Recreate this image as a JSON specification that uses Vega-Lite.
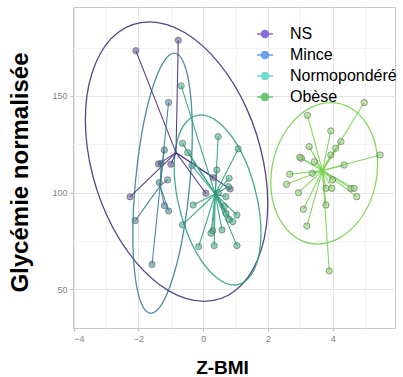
{
  "$schema": "https://vega.github.io/schema/vega-lite/v6.json",
  "width": 322,
  "height": 321,
  "autosize": {"type": "none"},
  "padding": {"left": 73, "top": 7, "right": 8, "bottom": 49},
  "background": "white",
  "config": {
    "view": {"stroke": "#c8c8c8", "strokeWidth": 1},
    "axis": {
      "domain": false,
      "labelFont": "Liberation Sans",
      "labelFontSize": 9,
      "labelColor": "#7f7f7f",
      "tickColor": "#b5b5b5",
      "tickSize": 3,
      "titleFont": "Liberation Sans",
      "titleFontWeight": "bold",
      "titleColor": "#000000"
    }
  },
  "datasets": {
    "pts": [
      {"g": "NS", "x": -2.08, "y": 173.4, "cx": -0.84, "cy": 120.7},
      {"g": "NS", "x": -0.77, "y": 178.8, "cx": -0.84, "cy": 120.7},
      {"g": "NS", "x": -2.26, "y": 97.8, "cx": -0.84, "cy": 120.7},
      {"g": "NS", "x": -1.38, "y": 114.8, "cx": -0.84, "cy": 120.7},
      {"g": "NS", "x": -1.0, "y": 114.7, "cx": -0.84, "cy": 120.7},
      {"g": "NS", "x": 0.08, "y": 99.7, "cx": -0.84, "cy": 120.7},
      {"g": "NS", "x": 0.32, "y": 107.8, "cx": -0.84, "cy": 120.7},
      {"g": "NS", "x": 0.83, "y": 101.9, "cx": -0.84, "cy": 120.7},
      {"g": "Mince", "x": -1.07, "y": 146.6, "cx": -1.33, "cy": 103.5},
      {"g": "Mince", "x": -1.2, "y": 122.1, "cx": -1.33, "cy": 103.5},
      {"g": "Mince", "x": -1.3, "y": 115.2, "cx": -1.33, "cy": 103.5},
      {"g": "Mince", "x": -1.1, "y": 106.6, "cx": -1.33, "cy": 103.5},
      {"g": "Mince", "x": -1.36, "y": 105.2, "cx": -1.33, "cy": 103.5},
      {"g": "Mince", "x": -2.1, "y": 85.5, "cx": -1.33, "cy": 103.5},
      {"g": "Mince", "x": -1.58, "y": 62.9, "cx": -1.33, "cy": 103.5},
      {"g": "Mince", "x": -1.2, "y": 93.3, "cx": -1.33, "cy": 103.5},
      {"g": "Mince", "x": -1.07, "y": 90.5, "cx": -1.33, "cy": 103.5},
      {"g": "Normopondéré", "x": -0.68, "y": 155.2, "cx": 0.37, "cy": 99.3},
      {"g": "Normopondéré", "x": -0.64, "y": 125.5, "cx": 0.37, "cy": 99.3},
      {"g": "Normopondéré", "x": -0.48, "y": 120.7, "cx": 0.37, "cy": 99.3},
      {"g": "Normopondéré", "x": -0.35, "y": 114.0, "cx": 0.37, "cy": 99.3},
      {"g": "Normopondéré", "x": 0.46, "y": 129.0, "cx": 0.37, "cy": 99.3},
      {"g": "Normopondéré", "x": 1.08, "y": 122.6, "cx": 0.37, "cy": 99.3},
      {"g": "Normopondéré", "x": 0.42, "y": 111.7, "cx": 0.37, "cy": 99.3},
      {"g": "Normopondéré", "x": 0.8, "y": 107.4, "cx": 0.37, "cy": 99.3},
      {"g": "Normopondéré", "x": 0.78, "y": 103.1, "cx": 0.37, "cy": 99.3},
      {"g": "Normopondéré", "x": 0.7, "y": 97.9, "cx": 0.37, "cy": 99.3},
      {"g": "Normopondéré", "x": -0.31, "y": 93.6, "cx": 0.37, "cy": 99.3},
      {"g": "Normopondéré", "x": -0.64, "y": 83.3, "cx": 0.37, "cy": 99.3},
      {"g": "Normopondéré", "x": 0.65, "y": 92.8, "cx": 0.37, "cy": 99.3},
      {"g": "Normopondéré", "x": 0.7, "y": 89.3, "cx": 0.37, "cy": 99.3},
      {"g": "Normopondéré", "x": 0.8, "y": 86.2, "cx": 0.37, "cy": 99.3},
      {"g": "Normopondéré", "x": 0.91, "y": 85.0, "cx": 0.37, "cy": 99.3},
      {"g": "Normopondéré", "x": 1.04, "y": 88.4, "cx": 0.37, "cy": 99.3},
      {"g": "Normopondéré", "x": 0.29, "y": 80.3, "cx": 0.37, "cy": 99.3},
      {"g": "Normopondéré", "x": 0.24, "y": 79.0, "cx": 0.37, "cy": 99.3},
      {"g": "Normopondéré", "x": 0.58, "y": 80.7, "cx": 0.37, "cy": 99.3},
      {"g": "Normopondéré", "x": -0.14, "y": 72.1, "cx": 0.37, "cy": 99.3},
      {"g": "Normopondéré", "x": 0.34, "y": 72.6, "cx": 0.37, "cy": 99.3},
      {"g": "Normopondéré", "x": 1.04, "y": 72.6, "cx": 0.37, "cy": 99.3},
      {"g": "Normopondéré", "x": 0.47, "y": 100.0, "cx": 0.37, "cy": 99.3},
      {"g": "Obèse", "x": 4.97, "y": 146.6, "cx": 3.68, "cy": 111.4},
      {"g": "Obèse", "x": 3.22, "y": 140.0, "cx": 3.68, "cy": 111.4},
      {"g": "Obèse", "x": 3.94, "y": 131.9, "cx": 3.68, "cy": 111.4},
      {"g": "Obèse", "x": 4.25, "y": 126.4, "cx": 3.68, "cy": 111.4},
      {"g": "Obèse", "x": 4.09, "y": 122.9, "cx": 3.68, "cy": 111.4},
      {"g": "Obèse", "x": 3.94, "y": 119.5, "cx": 3.68, "cy": 111.4},
      {"g": "Obèse", "x": 3.27, "y": 123.8, "cx": 3.68, "cy": 111.4},
      {"g": "Obèse", "x": 3.03, "y": 117.8, "cx": 3.68, "cy": 111.4},
      {"g": "Obèse", "x": 2.98, "y": 118.3, "cx": 3.68, "cy": 111.4},
      {"g": "Obèse", "x": 3.43, "y": 116.0, "cx": 3.68, "cy": 111.4},
      {"g": "Obèse", "x": 3.37, "y": 110.0, "cx": 3.68, "cy": 111.4},
      {"g": "Obèse", "x": 4.35, "y": 114.3, "cx": 3.68, "cy": 111.4},
      {"g": "Obèse", "x": 5.46, "y": 119.5, "cx": 3.68, "cy": 111.4},
      {"g": "Obèse", "x": 2.67, "y": 109.5, "cx": 3.68, "cy": 111.4},
      {"g": "Obèse", "x": 2.57, "y": 104.3, "cx": 3.68, "cy": 111.4},
      {"g": "Obèse", "x": 2.94, "y": 100.0, "cx": 3.68, "cy": 111.4},
      {"g": "Obèse", "x": 3.79, "y": 102.2, "cx": 3.68, "cy": 111.4},
      {"g": "Obèse", "x": 3.97, "y": 102.2, "cx": 3.68, "cy": 111.4},
      {"g": "Obèse", "x": 3.99, "y": 106.6, "cx": 3.68, "cy": 111.4},
      {"g": "Obèse", "x": 4.56, "y": 102.2, "cx": 3.68, "cy": 111.4},
      {"g": "Obèse", "x": 4.66, "y": 102.2, "cx": 3.68, "cy": 111.4},
      {"g": "Obèse", "x": 4.74, "y": 97.9, "cx": 3.68, "cy": 111.4},
      {"g": "Obèse", "x": 3.79, "y": 93.6, "cx": 3.68, "cy": 111.4},
      {"g": "Obèse", "x": 3.09, "y": 91.4, "cx": 3.68, "cy": 111.4},
      {"g": "Obèse", "x": 3.2, "y": 82.8, "cx": 3.68, "cy": 111.4},
      {"g": "Obèse", "x": 3.89, "y": 59.5, "cx": 3.68, "cy": 111.4}
    ],
    "ell": [
      {"g": "NS", "i": 0, "x": -1.667, "y": 188.3},
      {"g": "NS", "i": 1, "x": -0.574, "y": 182.8},
      {"g": "NS", "i": 2, "x": 0.478, "y": 167.1},
      {"g": "NS", "i": 3, "x": 1.335, "y": 143.7},
      {"g": "NS", "i": 4, "x": 1.862, "y": 116.0},
      {"g": "NS", "i": 5, "x": 1.981, "y": 88.4},
      {"g": "NS", "i": 6, "x": 1.672, "y": 65.0},
      {"g": "NS", "i": 7, "x": 0.986, "y": 49.3},
      {"g": "NS", "i": 8, "x": 0.021, "y": 43.8},
      {"g": "NS", "i": 9, "x": -1.072, "y": 49.3},
      {"g": "NS", "i": 10, "x": -2.124, "y": 65.0},
      {"g": "NS", "i": 11, "x": -2.981, "y": 88.4},
      {"g": "NS", "i": 12, "x": -3.508, "y": 116.0},
      {"g": "NS", "i": 13, "x": -3.628, "y": 143.7},
      {"g": "NS", "i": 14, "x": -3.318, "y": 167.1},
      {"g": "NS", "i": 15, "x": -2.632, "y": 182.8},
      {"g": "Mince", "i": 0, "x": -0.895, "y": 172.1},
      {"g": "Mince", "i": 1, "x": -0.6, "y": 167.0},
      {"g": "Mince", "i": 2, "x": -0.404, "y": 152.4},
      {"g": "Mince", "i": 3, "x": -0.337, "y": 130.6},
      {"g": "Mince", "i": 4, "x": -0.412, "y": 104.8},
      {"g": "Mince", "i": 5, "x": -0.613, "y": 79.1},
      {"g": "Mince", "i": 6, "x": -0.913, "y": 57.3},
      {"g": "Mince", "i": 7, "x": -1.264, "y": 42.7},
      {"g": "Mince", "i": 8, "x": -1.615, "y": 37.6},
      {"g": "Mince", "i": 9, "x": -1.91, "y": 42.7},
      {"g": "Mince", "i": 10, "x": -2.106, "y": 57.3},
      {"g": "Mince", "i": 11, "x": -2.173, "y": 79.1},
      {"g": "Mince", "i": 12, "x": -2.099, "y": 104.8},
      {"g": "Mince", "i": 13, "x": -1.897, "y": 130.6},
      {"g": "Mince", "i": 14, "x": -1.598, "y": 152.4},
      {"g": "Mince", "i": 15, "x": -1.246, "y": 167.0},
      {"g": "Normopondéré", "i": 0, "x": -0.072, "y": 140.2},
      {"g": "Normopondéré", "i": 1, "x": 0.44, "y": 136.8},
      {"g": "Normopondéré", "i": 2, "x": 0.951, "y": 127.3},
      {"g": "Normopondéré", "i": 3, "x": 1.386, "y": 113.1},
      {"g": "Normopondéré", "i": 4, "x": 1.677, "y": 96.2},
      {"g": "Normopondéré", "i": 5, "x": 1.781, "y": 79.4},
      {"g": "Normopondéré", "i": 6, "x": 1.679, "y": 65.1},
      {"g": "Normopondéré", "i": 7, "x": 1.391, "y": 55.6},
      {"g": "Normopondéré", "i": 8, "x": 0.957, "y": 52.2},
      {"g": "Normopondéré", "i": 9, "x": 0.444, "y": 55.6},
      {"g": "Normopondéré", "i": 10, "x": -0.066, "y": 65.1},
      {"g": "Normopondéré", "i": 11, "x": -0.501, "y": 79.4},
      {"g": "Normopondéré", "i": 12, "x": -0.792, "y": 96.2},
      {"g": "Normopondéré", "i": 13, "x": -0.896, "y": 113.1},
      {"g": "Normopondéré", "i": 14, "x": -0.794, "y": 127.3},
      {"g": "Normopondéré", "i": 15, "x": -0.506, "y": 136.8},
      {"g": "Obèse", "i": 0, "x": 3.94, "y": 146.6},
      {"g": "Obèse", "i": 1, "x": 4.551, "y": 143.8},
      {"g": "Obèse", "i": 2, "x": 5.036, "y": 135.8},
      {"g": "Obèse", "i": 3, "x": 5.325, "y": 124.0},
      {"g": "Obèse", "i": 4, "x": 5.37, "y": 110.0},
      {"g": "Obèse", "i": 5, "x": 5.167, "y": 96.0},
      {"g": "Obèse", "i": 6, "x": 4.746, "y": 84.2},
      {"g": "Obèse", "i": 7, "x": 4.171, "y": 76.2},
      {"g": "Obèse", "i": 8, "x": 3.529, "y": 73.4},
      {"g": "Obèse", "i": 9, "x": 2.918, "y": 76.2},
      {"g": "Obèse", "i": 10, "x": 2.433, "y": 84.2},
      {"g": "Obèse", "i": 11, "x": 2.144, "y": 96.0},
      {"g": "Obèse", "i": 12, "x": 2.099, "y": 110.0},
      {"g": "Obèse", "i": 13, "x": 2.302, "y": 124.0},
      {"g": "Obèse", "i": 14, "x": 2.723, "y": 135.8},
      {"g": "Obèse", "i": 15, "x": 3.298, "y": 143.8}
    ]
  },
  "encoding": {
    "x": {
      "field": "x", "type": "quantitative",
      "scale": {"domain": [-4.02, 5.92], "nice": false, "zero": false},
      "axis": {
        "values": [-4, -3, -2, -1, 0, 1, 2, 3, 4, 5],
        "labelExpr": "datum.value % 2 === 0 ? datum.label : ''",
        "gridColor": {"condition": {"test": "datum.value % 2 !== 0", "value": "#f3f3f3"}, "value": "#e6e6e6"},
        "tickOpacity": {"condition": {"test": "datum.value % 2 !== 0", "value": 0}, "value": 1},
        "labelPadding": 3,
        "title": "Z-BMI",
        "titleFontSize": 19,
        "titleX": 149,
        "titleY": 45,
        "titleBaseline": "alphabetic"
      }
    },
    "y": {
      "field": "y", "type": "quantitative",
      "scale": {"domain": [30, 196], "nice": false, "zero": false},
      "axis": {
        "values": [50, 75, 100, 125, 150, 175],
        "labelExpr": "datum.value % 50 === 0 ? datum.label : ''",
        "gridColor": {"condition": {"test": "datum.value % 50 !== 0", "value": "#f3f3f3"}, "value": "#e6e6e6"},
        "tickOpacity": {"condition": {"test": "datum.value % 50 !== 0", "value": 0}, "value": 1},
        "labelPadding": 3,
        "title": "Glycémie normalisée",
        "titleFontSize": 24,
        "titleX": -46,
        "titleY": 165,
        "titleAlign": "center",
        "titleBaseline": "alphabetic"
      }
    }
  },
  "layer": [
    {
      "data": {"name": "ell"},
      "mark": {"type": "line", "interpolate": "cardinal-closed", "strokeWidth": 1.3, "opacity": 0.9},
      "encoding": {
        "stroke": {
          "field": "g", "type": "nominal",
          "scale": {"domain": ["Mince", "NS", "Normopondéré", "Obèse"], "range": ["#3d7f96", "#46327e", "#2fa183", "#7ad151"]},
          "legend": null
        },
        "order": {"field": "i", "type": "quantitative"}
      }
    },
    {
      "data": {"name": "pts"},
      "mark": {"type": "rule", "strokeWidth": 1.1, "opacity": 0.9},
      "encoding": {
        "x2": {"field": "cx"},
        "y2": {"field": "cy"},
        "stroke": {"field": "g", "type": "nominal", "legend": null}
      }
    },
    {
      "data": {"name": "pts"},
      "mark": {"type": "circle", "size": 40, "fillOpacity": 0.55, "stroke": "#555555", "strokeOpacity": 0.6, "strokeWidth": 0.9},
      "encoding": {
        "fill": {
          "field": "g", "type": "nominal",
          "scale": {"domain": ["Obèse", "Normopondéré", "NS", "Mince"], "range": ["#86d36a", "#3aae86", "#5a4e8e", "#467f96"]},
          "legend": null
        }
      }
    },
    {
      "data": {"name": "ell"},
      "mark": {"type": "point", "filled": true, "fillOpacity": 0, "strokeOpacity": 0},
      "encoding": {
        "color": {
          "field": "g", "type": "nominal",
          "scale": {"domain": ["NS", "Mince", "Normopondéré", "Obèse"], "range": ["#8b6fe2", "#6c9ff0", "#6fdccc", "#6cc472"]},
          "legend": {
            "title": null,
            "orient": "none",
            "legendX": 183,
            "legendY": 18,
            "padding": 0,
            "symbolType": "M-1,0L-0.45,0M0.45,0L1,0M0.45,0A0.45,0.45,0,1,1,-0.45,0A0.45,0.45,0,1,1,0.45,0Z",
            "symbolSize": 256,
            "symbolStrokeWidth": 1.5,
            "labelFont": "Liberation Sans",
            "labelFontSize": 16,
            "labelColor": "#000000",
            "labelOffset": 16,
            "rowPadding": 4,
            "labelLimit": 300,
            "encode": {
              "symbols": {
                "update": {
                  "fill": {"scale": "color", "field": "value"},
                  "stroke": {"scale": "color", "field": "value"},
                  "fillOpacity": {"value": 1},
                  "strokeOpacity": {"value": 1}
                }
              }
            }
          }
        }
      }
    }
  ]
}
